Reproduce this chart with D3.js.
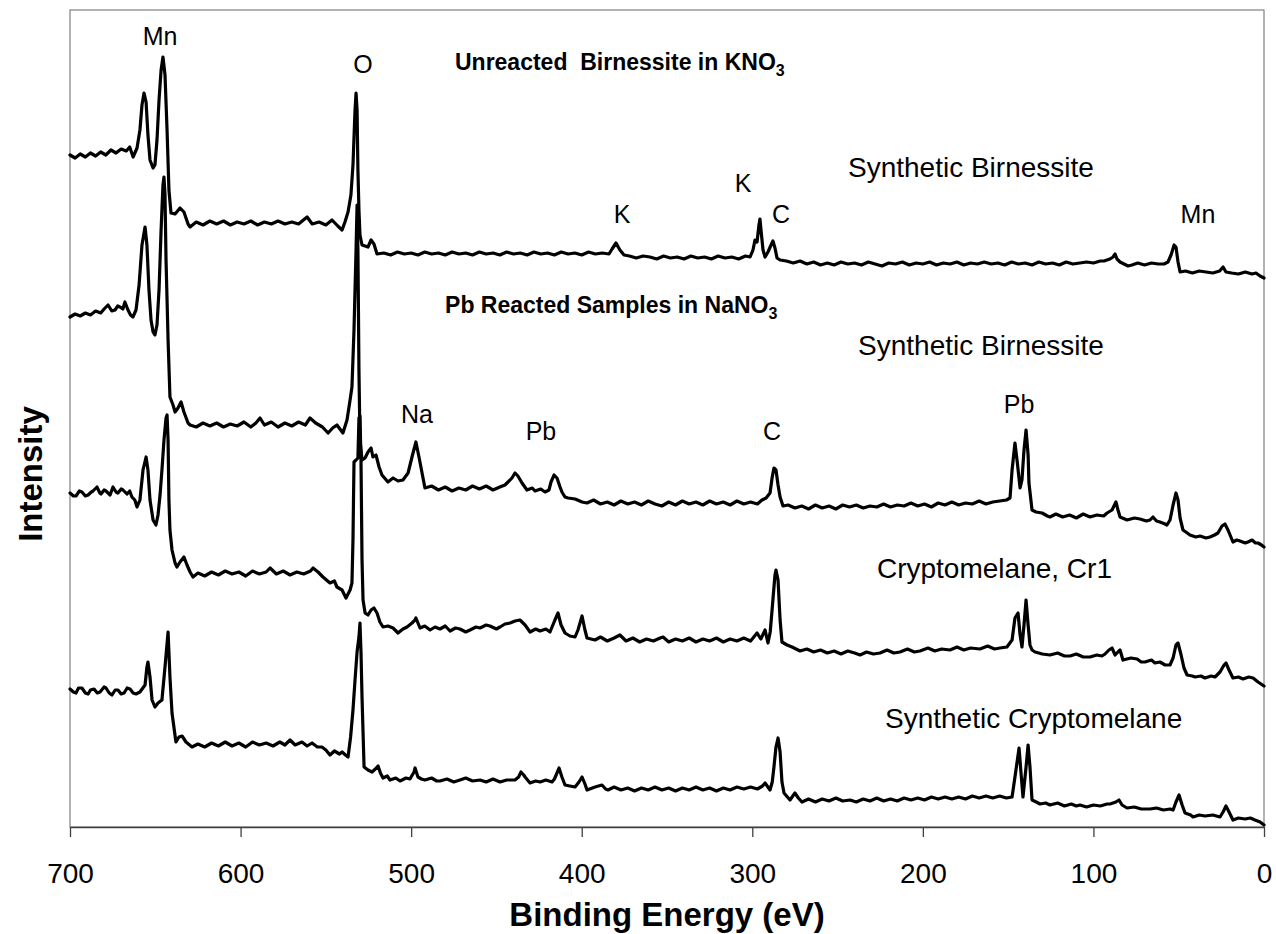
<!DOCTYPE html>
<html>
<head>
<meta charset="utf-8">
<script src="https://cdn.jsdelivr.net/npm/d3@7"></script>
<style>
  html, body { margin: 0; padding: 0; background: #fff; }
  svg { display: block; font-family: "Liberation Sans", Arial, Helvetica, sans-serif; }
</style>
</head>
<body>
<svg id="chart" width="1276" height="934"></svg>
<script>
// XPS survey spectra, binding energy (eV) vs intensity (arbitrary units, stacked traces)

const xTicks = [700, 600, 500, 400, 300, 200, 100, 0];

// Unreacted synthetic birnessite in KNO3
const unreactedBirnessite = [
  [700,672],[697,669],[694,673],[691,670],[688,674],[685,671],[682,675],[679,672],[676,677],[673,674],[670,678],[667,676],[665,680],[663,670],[660.7,679],[659,697],[657.8,722],[656.6,734],[655.4,725],[654.3,692],[653.1,667],[651.3,659],[650.2,662],[649,687],[647.8,727],[646.6,757],[645.5,770],[644.3,752],[643.1,697],[642,637],[640.8,614],[638.4,613],[635.5,619],[633.2,615],[630.8,603],[629.6,600],
  [626,605],[622,602],[618,606],[614,603],[610,606],[606,602],[602,605],[598,603],[594,606],[590,602],[586,605],[582,603],[578,606],[574,603],[570,605],[566,603],[561,610],[558,603],[554,605],[550,602],[546.4,607],[543,601],[540.5,597],[538.8,605],[537,615],[535.3,632],[534.1,662],[532.9,717],[532.3,734],[531.7,717],[531.2,657],[530.6,617],[530,592],[528.8,582],[527,581],[525.3,580],[523.5,587],[521.8,583],[520,573],
  [516,574],[512,572],[508,575],[504,573],[500,574],[496,572],[492,575],[488,573],[484,574],[480,572],[476,575],[472,573],[468,574],[464,572],[460,575],[456,573],[452,574],[448,572],[444,575],[440,573],[436,574],[432,572],[428,575],[424,573],[420,574],[416,572],[412,575],[408,573],[404,574],[400,572],[396,575],[392,573],[388,574],[384,573],[382.2,578],[379.9,584],[377.6,577],[375.2,572],
  [372,571],[368,569],[364,571],[360,570],[356,568],[352,571],[348,569],[344,570],[340,568],[336,571],[332,569],[328,570],[324,568],[320,571],[316,569],[312,570],[308,568],[304,571],[301.3,570],[299.6,577],[298.4,587],[297.2,585],[296.1,602],[295.5,608],[294.9,597],[293.7,577],[292.5,570],[290.8,575],[289,582],[287.9,586],[286.7,579],[285.5,569],[283.7,567],
  [280,566],[276,564],[272,566],[268,563],[264,565],[260,562],[256,564],[252,562],[248,565],[244,563],[240,564],[236,562],[232,565],[228,563],[224,561],[220,564],[216,563],[212,565],[208,562],[204,564],[200,563],[196,565],[192,562],[188,564],[184,563],[180,565],[176,562],[172,564],[168,563],[164,565],[160,563],[156,564],[152,562],[148,565],[144,563],[140,564],[136,562],[132,565],[128,563],[124,564],[120,562],[116,565],[112,563],[108,564],[104,565],[100,564],[96,566],[93.8,566],[90.3,568],[88.5,570],[87.3,573],[86.2,568],[84.4,565],[79.7,561],[77.4,562],[74,564],[70,562],[66,564],[62,563],[58.6,563],[56.3,565],[54.5,572],[52.7,582],[51.6,580],[50.4,565],[49.2,555],[46,556],[42,554],[38,556],[34,555],[30,554],[26,556],[24,560],[22.3,555],[19,554],[15,553],[11,555],[7,553],[4.7,554],[2.3,551],[0,549]
];

// Pb reacted synthetic birnessite in NaNO3
const pbBirnessite = [
  [700,510],[697,513],[694,511],[691,514],[688,512],[685,516],[682,514],[680,518],[677.7,522],[675.5,516],[673.6,517],[672,521],[670.7,520],[669,518],[667.8,525],[666,517],[664.5,512],[663.1,510],[661.3,517],[659.5,542],[657.8,582],[656,600],[654.9,582],[653.7,537],[652.5,507],[651.3,495],[650.2,492],[649,502],[647.8,537],[646.6,597],[645.5,642],[644.9,650],[644.3,632],[643.7,567],[642.5,487],[641.4,430],[639.6,422],[638.4,415],[636.7,419],[634.9,425],[633.2,415],[630.8,404],[629.6,402],
  [626,400],[622,404],[618,401],[614,404],[610,400],[606,403],[602,401],[598,405],[594,400],[591,404],[588.6,409],[586,402],[582,405],[578,400],[574,404],[570,401],[566,405],[562,402],[559.3,409],[556,404],[552,400],[548.7,394],[546,399],[543.5,402],[540,394],[537.6,407],[535.8,427],[534.7,440],[533.5,497],[532.3,577],[531.7,622],[531.2,577],[530.6,457],[530,387],[528.8,367],[527,369],[525.3,375],[523.5,379],[522.4,370],[520.6,372],[518.8,360],[517.1,352],[513.6,345],[510.6,349],[507.7,346],[504.8,347],[501.8,354],[499.5,370],[497.2,385],[495.4,370],[493.6,354],[491.9,339],
  [488,341],[484,337],[480,340],[476,336],[472,339],[468,337],[464,341],[460,338],[456,341],[452,337],[448,340],[445,342],[443.2,345],[440.9,349],[439.1,354],[437.4,351],[435,344],[432.1,337],[429,339],[427.4,336],[424,338],[421.5,335],[419.2,337],[418,345],[416.2,352],[414.5,349],[412.7,340],[411.6,335],[409.8,330],[408,329],[403.9,328],[399.8,325],[396.9,324],
  [393,327],[389,323],[385,325],[381,322],[377,326],[373,323],[369,325],[365,322],[361,326],[357,323],[353,321],[349,325],[345,322],[341,326],[337,323],[333,325],[329,322],[325,326],[321,323],[317,325],[313,322],[309,326],[305,323],[301,325],[297,323],[294.3,327],[291.9,329],[289.6,334],[288.4,349],[287.3,359],[286.1,357],[284.9,342],[283.7,330],[282,321],
  [279,322],[275,319],[271,321],[267,318],[263,322],[259,319],[255,321],[251,318],[247,322],[243,320],[239,322],[235,319],[231,321],[227,320],[223,323],[219,320],[215,322],[211,321],[207,324],[203,321],[199,323],[195,320],[191,324],[187,322],[183,325],[179,322],[175,324],[171,323],[167,326],[163,323],[159,325],[155,326],[151,327],[148.9,329],[147.7,357],[146,384],[144.8,367],[143,339],[141.9,347],[140.7,377],[139.5,397],[138.3,372],[137.8,344],[136,317],[133.7,315],[130.1,314],[127,311],[125.5,310],
  [122,313],[118,310],[114,312],[110,309],[106,313],[102,310],[98,312],[94,311],[92,314],[89.1,317],[86.8,325],[85.6,317],[84.4,310],[80.3,307],[76,309],[72.7,308],[69,306],[66.8,307],[65.1,310],[63,306],[61,305],[58,303],[56.9,302],[55.1,307],[53.3,322],[51.6,334],[50.4,327],[49.2,309],[47.5,297],[45,294],[43.4,292],[40,290],[37.5,291],[34,289],[31.7,290],[29,292],[27,294],[24.6,301],[22.9,303],[21.1,297],[18.2,285],[16,287],[14.1,286],[11,284],[9.4,285],[7,287],[5,284],[3.5,284],[1.5,282],[0,280]
];

// Pb reacted cryptomelane, Cr1
const pbCryptomelaneCr1 = [
  [700,334],[698,331],[696.5,331],[694.5,336],[693,335],[691,331],[689.4,332],[687.5,335],[686.5,336],[684.2,340],[682.5,334],[681.8,333],[680,337],[678.9,336],[676.5,332],[674.8,340],[673,335],[671.9,334],[670,338],[668.9,337],[666.6,333],[665,336],[663.7,330],[662,327],[660.7,320],[659,327],[657.2,357],[655.4,370],[654.3,357],[653.1,327],[651.3,307],[649.6,302],[648.4,312],[647.2,332],[646.1,357],[644.9,387],[643.7,409],[643.1,412],[642.5,387],[642,327],[641.4,297],[640.2,277],[638.4,264],[637.3,260],[635.5,265],[633.2,270],[631.4,262],[629.6,255],[627.9,250],
  [625,254],[621,251],[617,255],[613,252],[609,256],[605,253],[601,255],[597,251],[593,256],[589,253],[585,255],[582.7,259],[579,253],[575,256],[571,252],[567,255],[563,253],[559,256],[557.5,259],[554.6,255],[551.7,250],[547.6,244],[545,246],[543.5,240],[540.5,237],[538.2,229],[535.8,237],[534.7,244],[534.1,287],[533.5,365],[532.3,367],[531.2,369],[530.6,409],[530,411],[529.4,367],[528.8,267],[528.2,227],[527,214],[525.3,212],[523.5,217],[521.8,219],[520,214],[518.3,205],[516.5,200],[513.6,201],[510.6,199],[507.7,194],[504.8,198],[502.4,200],[499.5,204],[497.7,207],[497.2,209],[496,204],[494.8,199],
  [492,201],[488.9,197],[486,200],[483.1,198],[480,201],[477.2,196],[474,199],[471.4,198],[468,195],[465.5,197],[462,200],[459.6,199],[456,202],[453.8,201],[450,198],[447.9,200],[445,203],[442,204],[439.1,206],[436.2,207],[433.2,202],[430.3,195],[427,198],[424.4,196],[421,198],[418.6,195],[415.7,207],[413.9,214],[412.1,202],[409.8,194],[406.9,191],[403.9,190],[402.2,197],[399.8,211],[398.1,197],[396.9,189],[392.2,187],
  [389,190],[385,186],[381,189],[377.6,192],[374,186],[370,189],[366,185],[362,188],[358,186],[354,189],[352.3,190],[349,185],[345,188],[341,186],[337,189],[333,185],[329,188],[325,186],[321,189],[317,185],[313,188],[309,186],[305,189],[301,186],[297.2,194],[295,188],[292.5,197],[290.8,184],[289.5,195],[288.4,217],[286.7,252],[286.1,257],[284.9,247],[283.7,207],[282.6,185],[279.6,182],[276.7,180],[272,176],
  [268,178],[264,175],[260,177],[256,174],[252,176],[248,173],[244,176],[240,174],[236.8,172],[233,175],[229,173],[225.1,174],[221,177],[217,174],[213.4,175],[209,178],[205,175],[201.7,176],[197,179],[193,176],[189,178],[184.1,177],[180,180],[176,177],[172,179],[166.5,178],[162,181],[158,178],[154.8,179],[150.7,180],[147.7,187],[146,209],[144.2,214],[143,192],[141.9,180],[140.7,202],[139.5,227],[138.3,202],[137.2,182],[136,177],[134.2,175],[130,173],[125.5,172],[121,174],[117,171],[113.7,171],[110,173],[106,170],[102,170],[98,172],[95,171],[93.2,173],[90.9,177],[89.1,179],[87.3,172],[85.6,175],[84.4,177],[82.7,167],[78,169],[74.4,168],[72,165],[69.8,165],[66,167],[63.9,164],[61,165],[58,162],[55.1,162],[53.3,169],[51.6,182],[50.4,184],[48.6,172],[46.9,159],[45.1,152],[42,151],[40.4,150],[37,151],[34.6,149],[31,151],[28.7,150],[25.8,155],[23.4,162],[22.3,164],[20.5,157],[18.2,149],[15,150],[12.3,148],[9,150],[6.4,149],[3.5,145],[0,141]
];

// Pb reacted synthetic cryptomelane
const pbSyntheticCryptomelane = [
  [700,138],[698,135],[696.5,134],[695,139],[693,139],[691,134],[689.4,133],[688,137],[685.9,138],[684,134],[682.4,135],[680,140],[678.9,139],[677,134],[675.4,132],[673.5,137],[671.9,137],[670,133],[668.3,134],[666.5,139],[664.8,138],[663,134],[661.3,133],[659,135],[656,142],[654.9,160],[654.3,165],[653.1,150],[651.9,127],[650.2,120],[648.4,124],[646.1,127],[644.3,160],[642.5,195],[641.4,150],[640.2,114],[637.9,85],[636.1,90],[634.3,91],[632,85],[628.5,80],
  [625,83],[621,80],[617,84],[613,81],[609,85],[605,81],[601,84],[597,80],[593,85],[589,82],[585,84],[581,81],[577,85],[574,82],[571,87],[568,82],[564,85],[561,81],[558.1,84],[555,80],[552.3,80],[550,77],[547.6,72],[545,76],[542,73],[540.5,75],[538.5,72],[537,70],[535.5,90],[534.1,117],[532.9,147],[531.7,175],[530.6,190],[530,204],[529.4,175],[528.8,130],[527.6,60],[525.3,57],[522.9,55],[521,58],[519.4,61],[518,54],[516.5,49],[514,51],[512.4,47],[509,49],[506.5,46],[503,49],[500.7,48],[498.3,55],[497.7,59],[496,50],[494,48],[491.9,47],[488,49],[485,46],[483.1,46],[479,48],[475,45],[471.4,47],[468,49],[464,46],[459.6,47],[456,45],[452,48],[447.9,45],[444,47],[439.1,47],[437,50],[435.6,55],[434,52],[433.2,50],[430.3,44],[427,46],[424.4,45],[421,47],[417.4,45],[416,48],[415,52],[413.3,59],[411.6,50],[409.8,42],[407,41],[403.9,40],[401.6,45],[399.8,50],[398.1,43],[396.9,37],[392.2,40],[388.1,42],[386,38],[384.6,37],
  [381,40],[377,37],[373,39],[369,36],[365,39],[361,37],[357,40],[353,37],[349,39],[345,36],[341,39],[337,37],[333,40],[329,37],[325,39],[321,36],[317,39],[313,37],[309,40],[305,38],[301,40],[297,38],[294,41],[292.5,44],[289.6,37],[288.3,45],[287.3,60],[286.1,80],[284.9,89],[283.7,75],[282.6,45],[281.4,34],[277.9,27],[275,34],[273,29],[270.9,25],
  [267,28],[263,25],[259,28],[255,26],[251,29],[247,26],[242.7,27],[239,25],[235,28],[231,26],[227,29],[223,26],[219,28],[215,26],[211,29],[207,27],[203,29],[199,27],[195,30],[191,28],[187,30],[183,28],[179,30],[175,28],[171,31],[167,29],[163,31],[159,29],[155,31],[151,29],[147.7,30],[146,50],[143.6,79],[142.5,55],[141.3,30],[139.5,60],[138.3,82],[137.2,60],[136,27],[133.5,25],[131.3,23],[128,24],[125.5,22],[121,24],[117,21],[113,23],[110,21],[107.9,22],[104,20],[100,22],[96,21],[92,23],[90.3,23],[86.8,25],[85,27],[83.2,22],[80.3,19],[76,20],[72,18],[66.8,18],[63,19],[59,17],[55,18],[53.3,17],[51.6,25],[49.8,32],[48,22],[46.3,14],[43,12],[41.6,10],[38,12],[34.6,11],[30,12],[25.8,10],[24,15],[22.3,21],[20.5,15],[18.2,7],[15,9],[11.1,8],[8,9],[5.3,7],[2.3,5],[0,2]
];

const spectra = [unreactedBirnessite, pbBirnessite, pbCryptomelaneCr1, pbSyntheticCryptomelane];

// Element assignments placed at [binding energy, intensity]
const peakLabels = [
  ["Mn", 647.2, 782], ["O", 528.2, 754],
  ["K", 376.4, 604], ["K", 305.4, 635], ["C", 283.2, 604], ["Mn", 38.7, 604],
  ["Na", 496.6, 404], ["Pb", 423.9, 387], ["C", 288.4, 387], ["Pb", 143.6, 414]
];

// Sample names, anchored at their left end
const sampleLabels = [
  ["Synthetic Birnessite", 243.9, 650],
  ["Synthetic Birnessite", 238.0, 472],
  ["Cryptomelane, Cr1", 226.9, 249],
  ["Synthetic Cryptomelane", 222.2, 99]
];

// Group headings: text, subscript, energy, intensity
const groupHeadings = [
  ["Unreacted  Birnessite in KNO", "3", 474.3, 757],
  ["Pb Reacted Samples in NaNO", "3", 480.1, 514]
];

const svg = d3.select("#chart");
const W = 1276, H = 934;
const margin = { left: 70, top: 10, right: 12, bottom: 107 };
const plotW = W - margin.left - margin.right;
const plotH = H - margin.top - margin.bottom;

const x = d3.scaleLinear().domain([700, 0]).range([margin.left, margin.left + plotW]);
const y = d3.scaleLinear().domain([0, 817]).range([margin.top + plotH, margin.top]);

// plot-area frame
svg.append("rect")
  .attr("x", margin.left).attr("y", margin.top)
  .attr("width", plotW).attr("height", plotH)
  .attr("fill", "none").attr("stroke", "#808080").attr("stroke-width", 1.2);

// spectra
const line = d3.line().x(d => x(d[0])).y(d => y(d[1]));
svg.append("g").selectAll("path").data(spectra).join("path")
  .attr("d", line)
  .attr("fill", "none")
  .attr("stroke", "#000")
  .attr("stroke-width", 3.2)
  .attr("stroke-linejoin", "round")
  .attr("stroke-linecap", "round");

// x axis
const xAxis = svg.append("g")
  .attr("transform", `translate(0,${margin.top + plotH})`)
  .call(d3.axisBottom(x).tickValues(xTicks).tickSize(10).tickSizeOuter(0).tickFormat(d3.format("d")));
xAxis.select(".domain").attr("stroke", "#404040").attr("stroke-width", 1.3);
xAxis.selectAll(".tick line").attr("stroke", "#404040").attr("stroke-width", 1.3);
xAxis.selectAll(".tick text")
  .attr("y", 56).attr("dy", 0)
  .attr("font-size", 28)
  .attr("font-family", "'Liberation Sans', Arial, sans-serif")
  .attr("fill", "#000");

// axis titles
svg.append("text")
  .attr("x", margin.left + plotW / 2).attr("y", 926)
  .attr("text-anchor", "middle")
  .attr("font-size", 33).attr("font-weight", "bold")
  .text("Binding Energy (eV)");

svg.append("text")
  .attr("transform", "translate(42,474) rotate(-90)")
  .attr("text-anchor", "middle")
  .attr("font-size", 33).attr("font-weight", "bold")
  .text("Intensity");

// peak assignments
svg.append("g").selectAll("text").data(peakLabels).join("text")
  .attr("x", d => x(d[1])).attr("y", d => y(d[2]))
  .attr("text-anchor", "middle")
  .attr("font-size", 25)
  .text(d => d[0]);

// sample names
svg.append("g").selectAll("text").data(sampleLabels).join("text")
  .attr("x", d => x(d[1])).attr("y", d => y(d[2]))
  .attr("font-size", 28)
  .text(d => d[0]);

// group headings with subscript
const heads = svg.append("g").selectAll("text").data(groupHeadings).join("text")
  .attr("x", d => x(d[2])).attr("y", d => y(d[3]))
  .attr("font-size", 23).attr("font-weight", "bold")
  .style("white-space", "pre");
heads.append("tspan").text(d => d[0]);
heads.append("tspan").attr("font-size", 16).attr("dy", 6).text(d => d[1]);
</script>
</body>
</html>
